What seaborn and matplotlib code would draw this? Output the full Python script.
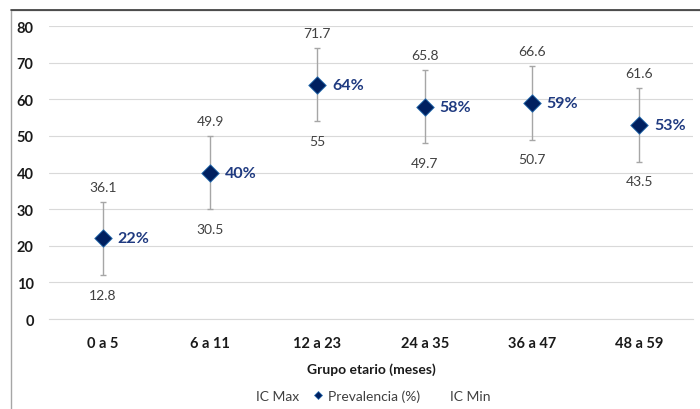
import matplotlib
matplotlib.use("Agg")
import matplotlib.pyplot as plt
from matplotlib.lines import Line2D
from matplotlib.patches import Rectangle
import seaborn as sns
import pandas as pd

# Prevalencia por grupo etario con intervalos de confianza
grupos = ["0 a 5", "6 a 11", "12 a 23", "24 a 35", "36 a 47", "48 a 59"]
prevalencia = [22, 40, 64, 58, 59, 53]
ic_max = [36.1, 49.9, 71.7, 65.8, 66.6, 61.6]
ic_min = [12.8, 30.5, 55, 49.7, 50.7, 43.5]
barra_error = [10, 10, 10, 10, 10, 10]
y_ticks = [0, 10, 20, 30, 40, 50, 60, 70, 80]

df = pd.DataFrame({"grupo": grupos, "prev": prevalencia,
                   "err": barra_error, "icmax": ic_max, "icmin": ic_min})

sns.set_theme(style="white")
plt.rcParams["font.family"] = ["Lato", "DejaVu Sans"]

navy = "#002060"
txt = "#1a1a1a"
grid = "#d9d9d9"

fig = plt.figure(figsize=(7.0, 4.1), dpi=100)
ax = fig.add_axes([0.07, 0.2195, 0.92, 0.7146])

# marco exterior del gráfico
fig.patches.append(Rectangle((11 / 700, -0.1), 1.2, 1 - 11 / 410 + 0.1,
                             transform=fig.transFigure, fill=False,
                             edgecolor="#a6a6a6", linewidth=1.0, zorder=0))
fig.add_artist(Line2D([11 / 700, 1.0], [1 - 11 / 410, 1 - 11 / 410],
                      transform=fig.transFigure, color="#3a3a3a", linewidth=1.2))

x = list(range(len(grupos)))
ax.errorbar(x, df["prev"], yerr=df["err"], fmt="none", ecolor="#a6a6a6",
            elinewidth=1.0, capsize=2.5, capthick=1.0, zorder=2)

sns.scatterplot(data=df, x="grupo", y="prev", marker="D", s=80,
                color=navy, edgecolor="#2e75b6", linewidth=0.6, ax=ax, zorder=3,
                legend=False)

for i, row in df.iterrows():
    ax.annotate(f"{row['prev']:.0f}%", (i, row["prev"]), xytext=(10.5, 0),
                textcoords="offset points", va="center", ha="left",
                fontsize=11.5, fontweight="bold", color="#1f3a80")
    ax.annotate(f"{row['icmax']:g}", (i, row["prev"] + row["err"]),
                xytext=(0, 11), textcoords="offset points", va="center",
                ha="center", fontsize=10, color="#404040")
    ax.annotate(f"{row['icmin']:g}", (i, row["prev"] - row["err"]),
                xytext=(0, -14), textcoords="offset points", va="center",
                ha="center", fontsize=10, color="#404040")

ax.set_xlim(-0.5, len(grupos) - 0.5)
ax.set_ylim(0, 80)
ax.set_yticks(y_ticks)
ax.set_yticklabels([str(v) for v in y_ticks], fontweight="bold", fontsize=10.5, color=txt)
ax.set_xticks(x)
ax.set_xticklabels(grupos, fontweight="bold", fontsize=10.5, color=txt)
ax.set_xticks([i - 0.5 for i in range(len(grupos) + 1)], minor=True)
ax.tick_params(axis="x", which="major", length=0, pad=12)
ax.tick_params(axis="x", which="minor", length=5, color=grid, width=0.8, direction="out")
ax.tick_params(axis="y", length=0, pad=11)
ax.yaxis.grid(True, color=grid, linewidth=0.8)
ax.set_axisbelow(True)
for s in ["top", "right", "left"]:
    ax.spines[s].set_visible(False)
ax.spines["bottom"].set_color(grid)
ax.spines["bottom"].set_linewidth(0.8)
ax.set_xlabel("Grupo etario (meses)", fontweight="bold", fontsize=10,
              color=txt, labelpad=9)
ax.set_ylabel("")

handles = [
    Line2D([], [], linestyle="none", marker="None"),
    Line2D([], [], linestyle="none", marker="D", markersize=4.5,
           markerfacecolor=navy, markeredgecolor="#2e75b6", markeredgewidth=0.5),
    Line2D([], [], linestyle="none", marker="None"),
]
fig.legend(handles, ["IC Max", "Prevalencia (%)", "IC Min"], loc="center",
           bbox_to_anchor=(0.522, 1 - 397 / 410), ncol=3, frameon=False,
           fontsize=10, labelcolor="#404040", handlelength=0.7,
           handletextpad=0.4, columnspacing=1.0)

fig.savefig("out.png", dpi=100)
